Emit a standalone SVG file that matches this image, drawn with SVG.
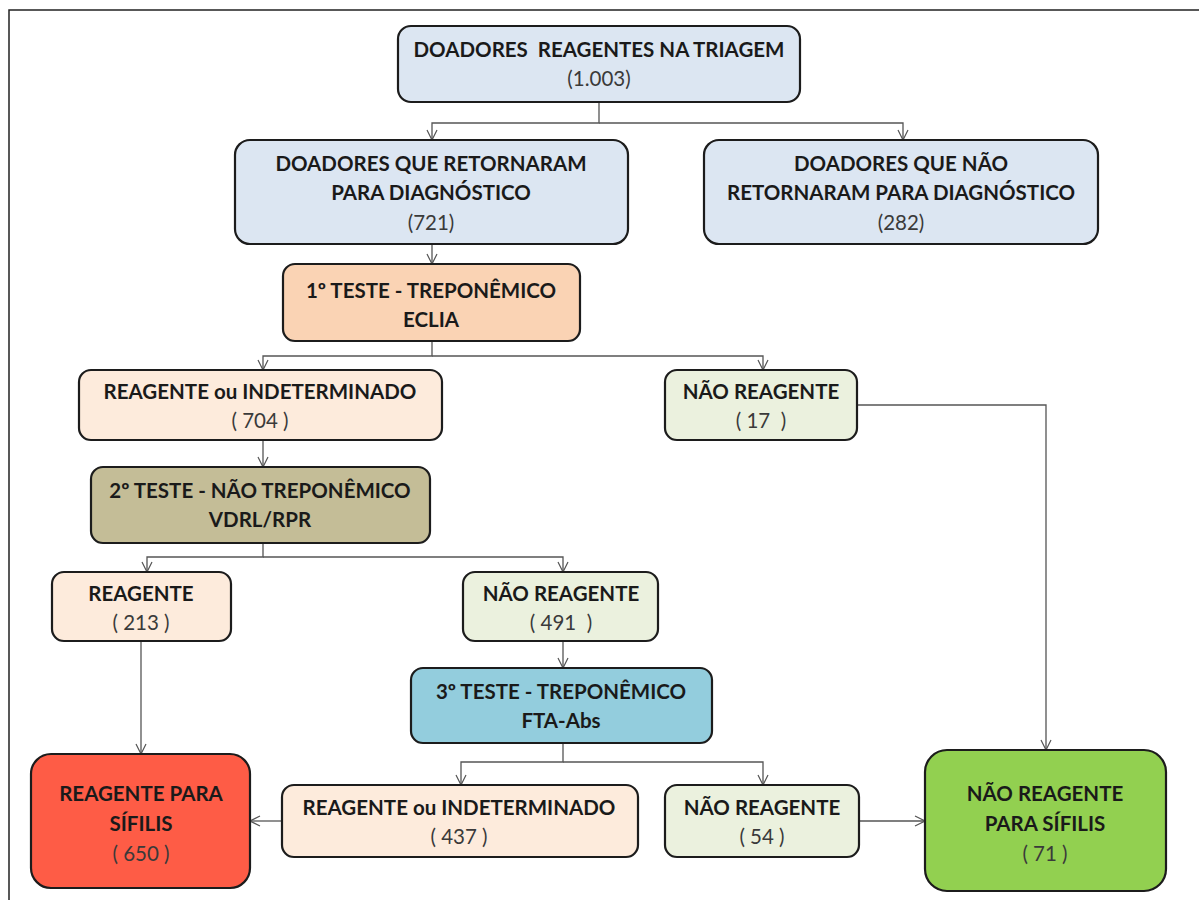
<svg xmlns="http://www.w3.org/2000/svg" width="1199" height="900" viewBox="0 0 1199 900">
<defs>
<marker id="arr" viewBox="0 0 12 12" refX="11" refY="6" markerWidth="12" markerHeight="12" markerUnits="userSpaceOnUse" orient="auto">
<path d="M1,1 L11,6 L1,11" fill="none" stroke="#555" stroke-width="1.2"/>
</marker>
<style>
.box{stroke:#1c1c1c;stroke-width:2.2}
.t{font-family:Lato,"Open Sans","Liberation Sans",sans-serif;font-weight:bold;font-size:20.5px;fill:#1a1a1a;text-anchor:middle}
.n{font-family:Lato,"Open Sans","Liberation Sans",sans-serif;font-size:20.5px;fill:#3a3a3a;text-anchor:middle}
.c{fill:none;stroke:#555;stroke-width:1.3}
.blue{fill:#dce6f2}.peach{fill:#fad3b4}.lpeach{fill:#fdebdc}.lgreen{fill:#ebf1de}
.olive{fill:#c4bd97}.cyan{fill:#93cddd}.red{fill:#fe5c46}.green{fill:#92d050}
</style>
</defs>
<rect width="1199" height="900" fill="#fff"/>
<path d="M9,900 V10 H1199" fill="none" stroke="#222" stroke-width="1.5"/>

<g id="connectors">
<path class="c" d="M599,102 V123 H432 V140" marker-end="url(#arr)"/>
<path class="c" d="M599,123 H903 V140" marker-end="url(#arr)"/>
<path class="c" d="M432,244 V264" marker-end="url(#arr)"/>
<path class="c" d="M432,341 V356 H263 V370" marker-end="url(#arr)"/>
<path class="c" d="M432,356 H763 V370" marker-end="url(#arr)"/>
<path class="c" d="M857,405 H1046 V750" marker-end="url(#arr)"/>
<path class="c" d="M263,440 V467" marker-end="url(#arr)"/>
<path class="c" d="M263,543 V557 H147 V572" marker-end="url(#arr)"/>
<path class="c" d="M263,557 H563 V572" marker-end="url(#arr)"/>
<path class="c" d="M563,641 V668" marker-end="url(#arr)"/>
<path class="c" d="M563,743 V762 H461 V785" marker-end="url(#arr)"/>
<path class="c" d="M563,762 H763 V785" marker-end="url(#arr)"/>
<path class="c" d="M141,641 V754" marker-end="url(#arr)"/>
<path class="c" d="M282,821 H250" marker-end="url(#arr)"/>
<path class="c" d="M859,821 H925" marker-end="url(#arr)"/>
</g>

<g id="n1">
<rect class="box blue" x="398" y="26" width="402" height="76" rx="13"/>
<text class="t" x="599" y="57" xml:space="preserve">DOADORES  REAGENTES NA TRIAGEM</text>
<text class="n" x="599" y="86">(1.003)</text>
</g>
<g id="n2">
<rect class="box blue" x="235" y="140" width="393" height="104" rx="15"/>
<text class="t" x="431" y="171">DOADORES QUE RETORNARAM</text>
<text class="t" x="431" y="200">PARA DIAGNÓSTICO</text>
<text class="n" x="431" y="230">(721)</text>
</g>
<g id="n3">
<rect class="box blue" x="704" y="140" width="394" height="104" rx="15"/>
<text class="t" x="901" y="171">DOADORES QUE NÃO</text>
<text class="t" x="901" y="200">RETORNARAM PARA DIAGNÓSTICO</text>
<text class="n" x="901" y="230">(282)</text>
</g>
<g id="n4">
<rect class="box peach" x="283" y="264" width="297" height="77" rx="12"/>
<text class="t" x="431" y="298">1º TESTE - TREPONÊMICO</text>
<text class="t" x="431" y="327">ECLIA</text>
</g>
<g id="n5">
<rect class="box lpeach" x="79" y="370" width="363" height="70" rx="12"/>
<text class="t" x="260" y="399">REAGENTE ou INDETERMINADO</text>
<text class="n" x="260" y="428">( 704 )</text>
</g>
<g id="n6">
<rect class="box lgreen" x="665" y="370" width="192" height="70" rx="12"/>
<text class="t" x="761" y="399">NÃO REAGENTE</text>
<text class="n" x="761" y="428" xml:space="preserve">( 17  )</text>
</g>
<g id="n7">
<rect class="box olive" x="91" y="467" width="339" height="76" rx="12"/>
<text class="t" x="260" y="498">2º TESTE - NÃO TREPONÊMICO</text>
<text class="t" x="260" y="527">VDRL/RPR</text>
</g>
<g id="n8">
<rect class="box lpeach" x="52" y="572" width="179" height="69" rx="12"/>
<text class="t" x="141" y="601">REAGENTE</text>
<text class="n" x="141" y="630">( 213 )</text>
</g>
<g id="n9">
<rect class="box lgreen" x="463" y="572" width="195" height="69" rx="12"/>
<text class="t" x="561" y="601">NÃO REAGENTE</text>
<text class="n" x="561" y="630" xml:space="preserve">( 491  )</text>
</g>
<g id="n10">
<rect class="box cyan" x="411" y="668" width="301" height="75" rx="12"/>
<text class="t" x="561" y="699">3º TESTE - TREPONÊMICO</text>
<text class="t" x="561" y="728">FTA-Abs</text>
</g>
<g id="n11">
<rect class="box lpeach" x="282" y="785" width="356" height="72" rx="12"/>
<text class="t" x="459" y="815">REAGENTE ou INDETERMINADO</text>
<text class="n" x="459" y="844">( 437 )</text>
</g>
<g id="n12">
<rect class="box lgreen" x="665" y="785" width="194" height="72" rx="12"/>
<text class="t" x="762" y="815">NÃO REAGENTE</text>
<text class="n" x="762" y="844">( 54 )</text>
</g>
<g id="n13">
<rect class="box red" x="31" y="754" width="219" height="134" rx="20"/>
<text class="t" x="141" y="801">REAGENTE PARA</text>
<text class="t" x="141" y="831">SÍFILIS</text>
<text class="n" x="141" y="861">( 650 )</text>
</g>
<g id="n14">
<rect class="box green" x="925" y="750" width="241" height="141" rx="22"/>
<text class="t" x="1045" y="801">NÃO REAGENTE</text>
<text class="t" x="1045" y="831">PARA SÍFILIS</text>
<text class="n" x="1045" y="861">( 71 )</text>
</g>
</svg>
